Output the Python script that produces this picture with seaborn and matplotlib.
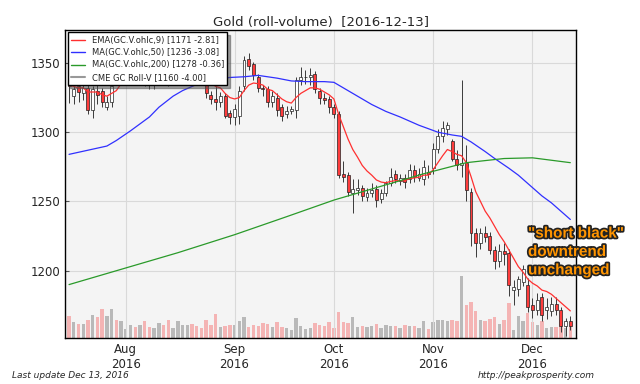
import matplotlib
matplotlib.use("Agg")
import matplotlib.pyplot as plt
import matplotlib.patheffects as pe
from matplotlib.lines import Line2D
import numpy as np
import pandas as pd
import seaborn as sns

# --- dias de negociacion (CME cerrado Labor Day y Thanksgiving) ---
dias = pd.bdate_range("2016-07-14", "2016-12-13")
dias = dias[~dias.isin(pd.to_datetime(["2016-09-05", "2016-11-24"]))]

# --- velas OHLC ---
apertura = [1343, 1326, 1333, 1328, 1332, 1316, 1330, 1330, 1318, 1322, 1345, 1340,
            1352, 1353, 1367, 1360, 1363, 1340, 1334, 1339, 1347, 1340, 1337, 1344, 1346, 1349,
            1353, 1341, 1341, 1337, 1327, 1324, 1322, 1326, 1314,
            1311, 1312, 1333, 1353, 1349, 1340, 1332, 1331, 1322, 1325, 1318, 1313, 1315, 1316,
            1338, 1339.5, 1340, 1342, 1330, 1325, 1324,
            1318, 1313, 1270, 1269, 1256, 1258, 1260, 1253, 1256, 1259, 1252, 1256, 1263, 1270,
            1265, 1267, 1266, 1273, 1267, 1266, 1271,
            1274, 1288, 1297, 1302, 1294, 1281, 1276, 1278, 1257, 1227, 1220, 1227, 1225, 1215,
            1207, 1214, 1213, 1186, 1187, 1192, 1190,
            1175, 1172, 1181, 1172, 1171, 1176, 1172, 1160, 1164]
maximo = [1346, 1337, 1336, 1336, 1334, 1333, 1335, 1332, 1326, 1338, 1350, 1358,
          1360, 1370, 1372, 1368, 1367, 1344, 1346, 1352, 1350, 1344, 1347, 1356, 1353, 1358,
          1355, 1344, 1345, 1340, 1330, 1344, 1329, 1328, 1316,
          1320, 1333, 1355, 1357, 1351, 1342, 1334, 1333, 1330, 1328, 1320, 1319, 1319, 1340,
          1347, 1345, 1346, 1344, 1332, 1328, 1326,
          1320, 1315, 1279, 1271, 1266, 1266, 1262, 1260, 1263, 1262, 1259, 1265, 1274, 1273,
          1270, 1270, 1277, 1276, 1274, 1280, 1276,
          1292, 1302, 1308, 1307, 1295, 1287, 1338, 1291, 1260, 1231, 1231, 1232, 1228, 1218,
          1219, 1220, 1216, 1193, 1196, 1204, 1195,
          1180, 1184, 1184, 1180, 1181, 1181, 1174, 1166, 1167]
minimo = [1321, 1320, 1322, 1323, 1313, 1310, 1320, 1318, 1316, 1318, 1335, 1336,
          1347, 1350, 1355, 1357, 1333, 1331, 1331, 1337, 1335, 1333, 1335, 1341, 1341, 1347,
          1338, 1334, 1335, 1325, 1320, 1316, 1318, 1310, 1306,
          1305, 1306, 1330, 1345, 1338, 1329, 1326, 1318, 1318, 1312, 1308, 1310, 1313, 1310,
          1334, 1335, 1334, 1328, 1320, 1320, 1314,
          1310, 1267, 1264, 1254, 1242, 1255, 1250, 1250, 1253, 1246, 1249, 1254, 1261, 1263,
          1262, 1260, 1263, 1264, 1265, 1262, 1267,
          1270, 1285, 1293, 1298, 1279, 1273, 1268, 1250, 1218, 1210, 1216, 1221, 1212, 1201,
          1203, 1204, 1182, 1175, 1182, 1189, 1170,
          1166, 1168, 1164, 1165, 1167, 1168, 1156, 1153, 1157]
cierre = [1333, 1331, 1329, 1332, 1316, 1331, 1327, 1322, 1322, 1333, 1341, 1355,
          1354, 1367, 1359, 1363, 1335, 1334, 1339, 1346, 1338, 1336, 1344, 1350, 1349, 1353,
          1341, 1337, 1339, 1328, 1324, 1322, 1326, 1312, 1311,
          1317, 1330, 1352, 1348, 1341, 1332, 1331, 1322, 1326, 1316, 1312, 1315, 1317, 1338,
          1340, 1340, 1341, 1331, 1325, 1323, 1318,
          1313, 1269, 1268, 1257, 1259, 1260, 1254, 1256, 1258, 1251, 1256, 1263, 1268, 1266,
          1267, 1264, 1273, 1268, 1270, 1275, 1270,
          1288, 1297, 1303, 1305, 1281, 1276, 1278, 1258, 1227, 1220, 1227, 1224, 1215, 1207,
          1214, 1212, 1190, 1188, 1194, 1201, 1174,
          1172, 1179, 1168, 1174, 1176, 1172, 1160, 1164, 1160]

# volumen (miles de contratos, aprox.)
volumen = [217, 157, 143, 137, 183, 233, 207, 290, 217, 293, 183, 173,
           90, 130, 110, 133, 167, 110, 103, 150, 127, 183, 103, 167, 133, 127,
           143, 117, 103, 180, 127, 240, 110, 123, 127,
           133, 173, 210, 113, 133, 123, 147, 143, 110, 160, 110, 100, 77, 200,
           123, 93, 100, 153, 127, 117, 157,
           103, 263, 160, 147, 207, 110, 120, 110, 120, 140, 100, 130, 120, 120,
           100, 130, 120, 120, 100, 170, 93,
           157, 183, 183, 167, 183, 173, 620, 330, 357, 267, 183, 167, 193, 210,
           143, 177, 350, 80, 220, 170, 250,
           160, 130, 170, 100, 110, 110, 180, 100, 120]

# --- medias moviles ---
ema9 = [1334, 1333, 1332, 1332, 1329, 1329, 1329, 1327, 1326, 1328, 1330, 1335,
        1339, 1344, 1347, 1350, 1347, 1344, 1343, 1344, 1342, 1341, 1342, 1343, 1344, 1346,
        1345, 1343, 1342, 1339, 1336, 1333, 1332, 1328, 1325,
        1324, 1325, 1330, 1334, 1335.5, 1335, 1334, 1331, 1330, 1327, 1324, 1322, 1321, 1325,
        1328, 1330, 1332, 1332, 1331, 1329, 1327,
        1324, 1313, 1304, 1295, 1287.5, 1282, 1276, 1272, 1269, 1265.5, 1264, 1263.5, 1264.5, 1265,
        1265, 1265, 1266.5, 1267, 1267.5, 1269, 1269,
        1273, 1278, 1283, 1287.5, 1286, 1284, 1283, 1278, 1268, 1257, 1250, 1243, 1238, 1232,
        1226, 1221, 1215, 1209, 1203, 1199, 1194,
        1191, 1189, 1186, 1185, 1183, 1180, 1177, 1174, 1171]
idx_ma50 = [0, 4, 8, 10, 13, 15, 17, 19, 22, 24, 26, 28, 31, 34, 37, 40, 44, 47, 50, 54, 56,
            59, 62, 64, 67, 70, 74, 78, 81, 83, 85, 88, 90, 93, 95, 98, 100, 102, 106]
ma50 = [1284, 1287, 1290, 1294, 1301, 1306, 1311, 1318, 1326, 1330, 1333, 1336, 1338,
        1339.5, 1340, 1341, 1339, 1337, 1336.5, 1336.5, 1336, 1330, 1324, 1320, 1315, 1311,
        1305, 1300, 1298, 1297, 1293, 1286, 1281, 1274, 1269, 1260, 1254, 1249, 1237]
idx_ma200 = [0, 12, 23, 35, 46, 56, 66, 75, 84, 92, 98, 106]
ma200 = [1190, 1202, 1213, 1226, 1239, 1251, 1261, 1270, 1278, 1281, 1281.5, 1278]

sns.set_style("white")
plt.rcParams["font.family"] = ["DejaVu Sans"]

fig = plt.figure(figsize=(6.4, 3.84), dpi=100)
ax = fig.add_axes([0.1016, 0.12, 0.7984, 0.802])
ax2 = ax.twinx()

x = np.arange(len(dias))
o, h, l, c = map(np.array, (apertura, maximo, minimo, cierre))
sube = c >= o

# volumen al fondo
ax2.set_zorder(1)
ax.set_zorder(2)
ax.patch.set_visible(False)
ax2.patch.set_visible(True)
ax2.set_facecolor("#f4f4f4")
ax2.bar(x, volumen, width=0.72, color=np.where(sube, "#b9b9b9", "#f4b4b4"), linewidth=0)
ax2.set_ylim(0, max(volumen) * 4.97)
ax2.set_yticks([])
for s in ax2.spines.values():
    s.set_visible(False)

# velas
ax.vlines(x, l, h, color="#3a3a3a", lw=0.7, zorder=3)
cuerpo = np.maximum(np.abs(c - o), 0.5)
ax.bar(x, cuerpo, bottom=np.minimum(o, c), width=0.62,
       color=np.where(sube, "white", "#ff3c3c"), edgecolor="#222222", linewidth=0.5, zorder=4)

sns.lineplot(x=x, y=ema9, color="#ff3030", lw=0.9, ax=ax, zorder=5)
sns.lineplot(x=idx_ma50, y=ma50, color="#3030ff", lw=0.9, ax=ax, zorder=5)
sns.lineplot(x=idx_ma200, y=ma200, color="#2a9a2a", lw=0.9, ax=ax, zorder=5)

ax.set_xlim(-0.85, len(dias) + 0.2)
ax.set_ylim(1151.5, 1373.8)
ax.set_yticks([1200, 1250, 1300, 1350])
primeros = pd.Series(x, index=dias).groupby(dias.to_period("M")).first().iloc[1:]
ax.set_xticks(primeros.values)
ax.set_xticklabels([f"{d:%b}\n{d:%Y}" for d in dias[primeros.values]])
ax.tick_params(labelsize=8.5, direction="in", length=3, color="#555555")
ax.grid(True, color="#d9d9d9", lw=0.8)
ax.set_axisbelow(True)
ax.set_xlabel("")
ax.set_ylabel("")
for s in ax.spines.values():
    s.set_color("black")
    s.set_linewidth(1)

ax.set_title("Gold (roll-volume)  [2016-12-13]", fontsize=9.5, pad=3)

handles = [Line2D([], [], color="#ff3030", lw=1), Line2D([], [], color="#3030ff", lw=1),
           Line2D([], [], color="#2a9a2a", lw=1), Line2D([], [], color="#999999", lw=1.5)]
labels = ["EMA(GC.V.ohlc,9) [1171 -2.81]", "MA(GC.V.ohlc,50) [1236 -3.08]",
          "MA(GC.V.ohlc,200) [1278 -0.36]", "CME GC Roll-V [1160 -4.00]"]
leg = ax.legend(handles, labels, loc="upper left", fontsize=6, frameon=True, fancybox=False,
                shadow=True, framealpha=1, edgecolor="black", borderaxespad=0.3,
                handlelength=1.7, labelspacing=0.4)
leg.set_zorder(10)

fig.text(528 / 640, 1 - 252 / 384, '"short black"\ndowntrend\nunchanged', ha="left", va="center",
         fontsize=11, fontweight="bold", color="#ff9400", family="Liberation Sans",
         linespacing=1.4,
         path_effects=[pe.withStroke(linewidth=2.5, foreground="#222222")])
fig.text(12 / 640, 1 - 375 / 384, "Last update Dec 13, 2016", style="italic",
         fontsize=6.5, va="center")
fig.text(595 / 640, 1 - 375 / 384, "http://peakprosperity.com", style="italic",
         fontsize=6.5, va="center", ha="right")

fig.savefig("out.png", dpi=100)
